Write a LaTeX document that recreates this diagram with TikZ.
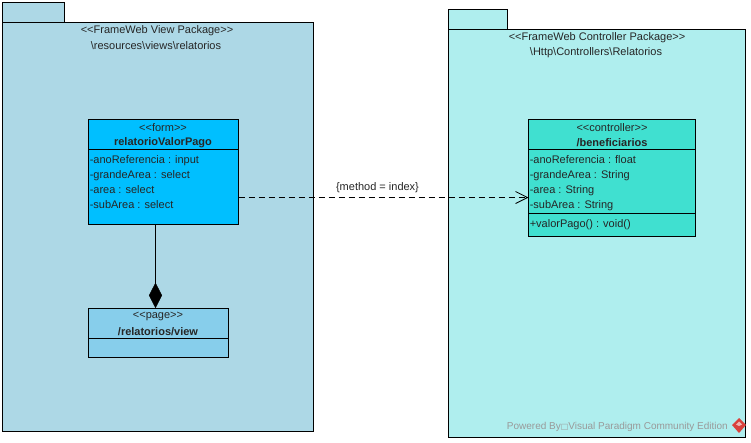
\documentclass[tikz,border=0pt]{standalone}
\usepackage{fontspec}
\setmainfont{Liberation Sans}
\newfontfamily\symfont{DejaVu Sans}
\usetikzlibrary{shapes.geometric,arrows.meta,positioning,calc}
\definecolor{viewpkg}{HTML}{ADD8E6}
\definecolor{ctrlpkg}{HTML}{AFEEEE}
\definecolor{formfill}{HTML}{00BFFF}
\definecolor{pagefill}{HTML}{87CEEB}
\definecolor{ctrlfill}{HTML}{40E0D0}
\definecolor{wm}{HTML}{999999}
\definecolor{wmred}{HTML}{D9413C}
\tikzset{
  x=0.75pt,y=-0.75pt,
  txt/.style={font=\fontsize{8.25}{11.25}\selectfont,text=black!85,inner sep=0pt,align=center},
  boldtxt/.style={txt,font=\fontsize{8.25}{11.25}\selectfont\bfseries},
  attrs/.style={txt,align=left,anchor=north west},
  box/.style={draw=black,line width=0.8pt,inner sep=0pt,outer sep=0pt},
  div/.style={draw=black,line width=0.75pt},
  conn/.style={draw=black,line width=0.75pt},
}
\begin{document}
\begin{tikzpicture}
\useasboundingbox (0,0) rectangle (751,443);
% packages
\node[box,fill=viewpkg,anchor=north west,minimum width=46.5pt,minimum height=15pt] (viewtab) at (2.5,2.5) {};
\node[box,fill=viewpkg,anchor=north west,minimum width=233.25pt,minimum height=306.4pt] (viewpk) at (2.5,22.5) {};
\node[box,fill=ctrlpkg,anchor=north west,minimum width=44.25pt,minimum height=15pt] (ctrltab) at (448.5,9.5) {};
\node[box,fill=ctrlpkg,anchor=north west,minimum width=222.75pt,minimum height=306pt] (ctrlpk) at (448.5,29.5) {};
\node[txt] (viewst) at (157,31) {<{}<FrameWeb View Package>{}>};
\node[txt] (viewpath) at (156,45.5) {\textbackslash resources\textbackslash views\textbackslash relatorios};
\node[txt] (ctrlst) at (597,38) {<{}<FrameWeb Controller Package>{}>};
\node[txt] (ctrlpath) at (596,52.5) {\textbackslash Http\textbackslash Controllers\textbackslash Relatorios};
% form class
\node[box,fill=formfill,anchor=north west,minimum width=112.5pt,minimum height=78.75pt] (form) at (88.5,119.5) {};
\draw[div] (88.5,149.5) -- (238.5,149.5);
\node[txt] (formst) at (163,127.5) {<{}<form>{}>};
\node[boldtxt] (formname) at (163,142.5) {relatorioValorPago};
\node[attrs] (formattrs) at (89.5,155) {-anoReferencia : input\\-grandeArea : select\\-area : select\\-subArea : select};
% page class
\node[box,fill=pagefill,anchor=north west,minimum width=105pt,minimum height=36.75pt] (page) at (88.5,308.5) {};
\draw[div] (88.5,338.5) -- (228.5,338.5);
\node[txt] (pagest) at (158,316.5) {<{}<page>{}>};
\node[boldtxt] (pagename) at (158,331.5) {/relatorios/view};
% controller class
\node[box,fill=ctrlfill,anchor=north west,minimum width=125.25pt,minimum height=87.75pt] (ctrl) at (528.5,119.5) {};
\draw[div] (528.5,149.5) -- (695.5,149.5);
\draw[div] (528.5,213.5) -- (695.5,213.5);
\node[txt] (ctrlcst) at (612,127.5) {<{}<controller>{}>};
\node[boldtxt] (ctrlname) at (612,142.5) {/beneficiarios};
\node[attrs] (ctrlattrs) at (529.5,155) {-anoReferencia : float\\-grandeArea : String\\-area : String\\-subArea : String};
\node[attrs] (ctrlops) at (529.5,219) {+valorPago() : void()};
% connectors
\coordinate (depa) at (form.south east |- 0,197.5);
\coordinate (depb) at (ctrl.west |- 0,197.5);
\draw[conn,dash pattern=on 4.5pt off 3pt,-{Straight Barb[length=9pt,width=9pt,line width=0.6pt]}] (depa) -- (depb);
\node[txt] (deplabel) at (377.5,187.5) {\{method = index\}};
\coordinate (compa) at (155.5,224.5);
\node[diamond,draw=black,fill=black,inner sep=0pt,minimum width=9.5pt,minimum height=18.5pt,anchor=south,shape aspect=0.5] (compd) at (155.5,308) {};
\draw[conn] (compa) -- (compd.north);
% watermark
\node[txt,text=wm,anchor=east,font=\fontsize{7.5}{10}\selectfont] (wmark) at (728,426.5) {Powered By{\symfont\fontsize{6}{8}\selectfont □}Visual Paradigm Community Edition};
\fill[wmred] (739,418) -- (746,425) -- (739,433) -- (732,425) -- cycle;
\fill[white!60!wmred] (739,421.5) -- (742,424.5) -- (739,426) -- (736,424.5) -- cycle;
\end{tikzpicture}
\end{document}
